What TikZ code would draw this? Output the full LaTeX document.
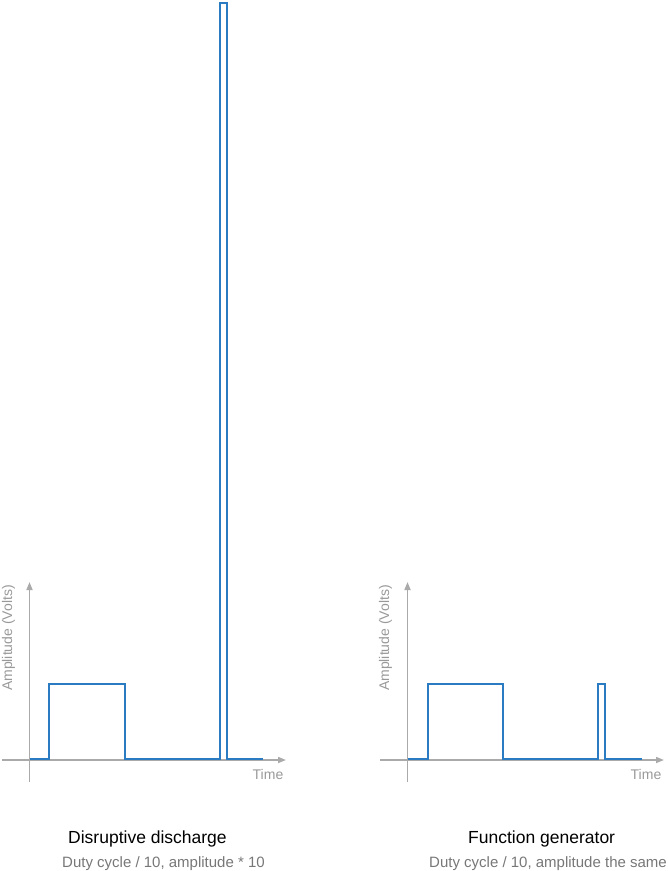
\documentclass[tikz,border=0pt]{standalone}
\usepackage{fontspec}
\setmainfont{Liberation Sans}
\usetikzlibrary{arrows.meta}
\definecolor{sigblue}{HTML}{2B7BC2}
\definecolor{axisgray}{HTML}{AAAAAA}
\definecolor{labgray}{HTML}{999999}
\definecolor{subgray}{HTML}{777777}
\begin{document}
\begin{tikzpicture}[x=1pt,y=-1pt,
  axisline/.style={draw=axisgray,line width=1.6pt,-{Triangle[length=8pt,width=6pt]}},
  signal/.style={draw=sigblue,line width=2pt,line join=miter},
  axlabel/.style={text=labgray,font=\fontsize{14}{16}\selectfont,inner sep=0pt},
  title/.style={text=black,font=\fontsize{17.5}{20}\selectfont,inner sep=0pt,anchor=base west},
  subtitle/.style={text=subgray,font=\fontsize{15}{18}\selectfont,inner sep=0pt}]
\useasboundingbox (0,0) rectangle (668,871);
% ---- left diagram ----
\coordinate (lx0) at (2,760);
\coordinate (lx1) at (286,760);
\coordinate (ly0) at (29.5,782);
\coordinate (ly1) at (29.5,582);
\draw[axisline] (lx0) -- (lx1);
\draw[axisline] (ly0) -- (ly1);
\draw[signal] (30,759) -- (49,759) -- (49,684) -- (125,684) -- (125,759) -- (220,759) -- (220,3) -- (227,3) -- (227,759) -- (263,759);
\node[axlabel] (ltime) at (268,774) {Time};
\node[axlabel,rotate=90] (lamp) at (8.5,638) {Amplitude (Volts)};
\node[title] (ltitle) at (68,843) {Disruptive discharge};
\node[subtitle,anchor=base west] (lsub) at (62,867) {Duty cycle / 10, amplitude * 10};
% ---- right diagram ----
\coordinate (rx0) at (380,760);
\coordinate (rx1) at (664,760);
\coordinate (ry0) at (407.5,782);
\coordinate (ry1) at (407.5,582);
\draw[axisline] (rx0) -- (rx1);
\draw[axisline] (ry0) -- (ry1);
\draw[signal] (408,759) -- (428,759) -- (428,684) -- (503,684) -- (503,759) -- (598,759) -- (598,684) -- (605,684) -- (605,759) -- (642,759);
\node[axlabel] (rtime) at (646,774) {Time};
\node[axlabel,rotate=90] (ramp) at (385.5,638) {Amplitude (Volts)};
\node[title] (rtitle) at (468,843) {Function generator};
\node[subtitle,anchor=base east] (rsub) at (667,867) {Duty cycle / 10, amplitude the same};
\end{tikzpicture}
\end{document}
